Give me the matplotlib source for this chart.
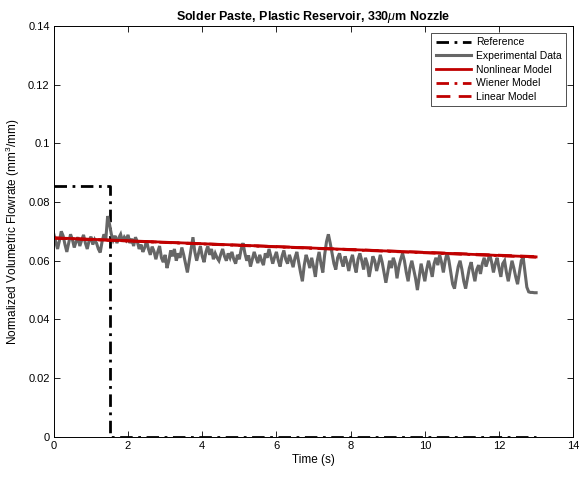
import numpy as np
import matplotlib
matplotlib.use("Agg")
import matplotlib.pyplot as plt

plt.rcParams['font.family'] = ['Liberation Sans', 'DejaVu Sans']
plt.rcParams['mathtext.fontset'] = 'custom'
plt.rcParams['mathtext.it'] = 'Liberation Sans:italic'
plt.rcParams['mathtext.rm'] = 'Liberation Sans'

# Reference step input
refTime = [0, 1.52, 1.52, 13.0]
refFlow = [0.0855, 0.0855, 0.0, 0.0]

# Measured flowrate, sampled every 0.05 s from 0 to 13 s
expStep = 0.05
expFlow = [
	0.0690, 0.0665, 0.0640, 0.0668, 0.0700, 0.0685, 0.0655, 0.0630, 0.0660, 0.0690, 0.0672, 0.0645, 0.0665, 0.0680, 0.0650, 0.0670, 0.0688, 0.0660, 0.0640, 0.0668,
	0.0682, 0.0655, 0.0672, 0.0660, 0.0640, 0.0628, 0.0665, 0.0690, 0.0672, 0.0752, 0.0725, 0.0690, 0.0670, 0.0685, 0.0660, 0.0678, 0.0690, 0.0665, 0.0680, 0.0670,
	0.0688, 0.0660, 0.0675, 0.0650, 0.0680, 0.0665, 0.0640, 0.0655, 0.0630, 0.0645, 0.0668, 0.0640, 0.0620, 0.0648, 0.0632, 0.0605, 0.0630, 0.0650, 0.0610, 0.0595,
	0.0620, 0.0575, 0.0600, 0.0635, 0.0615, 0.0640, 0.0600, 0.0625, 0.0610, 0.0645, 0.0620, 0.0590, 0.0560, 0.0600, 0.0640, 0.0680, 0.0630, 0.0600, 0.0625, 0.0650,
	0.0615, 0.0595, 0.0630, 0.0650, 0.0620, 0.0640, 0.0605, 0.0625, 0.0610, 0.0600, 0.0622, 0.0640, 0.0615, 0.0600, 0.0625, 0.0610, 0.0630, 0.0605, 0.0590, 0.0620,
	0.0605, 0.0640, 0.0660, 0.0625, 0.0600, 0.0618, 0.0580, 0.0605, 0.0630, 0.0610, 0.0592, 0.0620, 0.0600, 0.0585, 0.0625, 0.0610, 0.0640, 0.0615, 0.0590, 0.0612,
	0.0630, 0.0600, 0.0580, 0.0615, 0.0635, 0.0605, 0.0590, 0.0620, 0.0600, 0.0578, 0.0610, 0.0630, 0.0595, 0.0560, 0.0530, 0.0585, 0.0620, 0.0600, 0.0575, 0.0610,
	0.0580, 0.0545, 0.0600, 0.0630, 0.0590, 0.0560, 0.0620, 0.0665, 0.0690, 0.0660, 0.0625, 0.0590, 0.0570, 0.0610, 0.0625, 0.0600, 0.0580, 0.0615, 0.0595, 0.0565,
	0.0600, 0.0620, 0.0585, 0.0560, 0.0605, 0.0625, 0.0600, 0.0570, 0.0610, 0.0590, 0.0545, 0.0580, 0.0615, 0.0600, 0.0565, 0.0590, 0.0620, 0.0595, 0.0560, 0.0525,
	0.0560, 0.0600, 0.0575, 0.0610, 0.0590, 0.0540, 0.0580, 0.0605, 0.0625, 0.0600, 0.0560, 0.0530, 0.0575, 0.0600, 0.0570, 0.0540, 0.0500, 0.0545, 0.0590, 0.0560,
	0.0530, 0.0570, 0.0600, 0.0575, 0.0545, 0.0590, 0.0610, 0.0585, 0.0620, 0.0595, 0.0560, 0.0600, 0.0628, 0.0600, 0.0560, 0.0520, 0.0505, 0.0545, 0.0580, 0.0600,
	0.0570, 0.0530, 0.0505, 0.0540, 0.0575, 0.0595, 0.0560, 0.0530, 0.0570, 0.0585, 0.0555, 0.0590, 0.0610, 0.0580, 0.0600, 0.0622, 0.0595, 0.0560, 0.0590, 0.0610,
	0.0575, 0.0545, 0.0590, 0.0600, 0.0560, 0.0530, 0.0565, 0.0600, 0.0575, 0.0545, 0.0520, 0.0560, 0.0600, 0.0612, 0.0560, 0.0510, 0.0494, 0.0492, 0.0492, 0.0491,
	0.0491,
]
expTime = np.arange(len(expFlow)) * expStep

# Model predictions (start and end of the run)
modelTime = [0, 13.0]
nonlinearFlow = [0.0678, 0.0613]
wienerFlow = [0.0677, 0.0612]
linearFlow = [0.0677, 0.0614]

dashDot = (0, (4.5, 2, 1, 2))

fig = plt.figure(figsize=(5.79, 4.78), dpi=100)
ax = fig.add_axes([0.093, 0.086, 0.897, 0.860])

ax.plot(refTime, refFlow, color='black', linewidth=2, linestyle=dashDot, label="Reference")
ax.plot(expTime, expFlow, color='#666666', linewidth=2.2, solid_joinstyle='miter', label="Experimental Data")
ax.plot(modelTime, nonlinearFlow, color='#c00000', linewidth=2, label="Nonlinear Model")
ax.plot(modelTime, wienerFlow, color='#c00000', linewidth=2, linestyle=dashDot, label="Wiener Model")
ax.plot(modelTime, linearFlow, color='#c00000', linewidth=2, linestyle=(0, (5, 3)), label="Linear Model")

ax.set_xlim(0, 14)
ax.set_ylim(0, 0.14)
ax.set_xticks(np.arange(0, 15, 2))
ax.set_yticks(np.arange(0, 0.141, 0.02))
ax.set_yticklabels(['0', '0.02', '0.04', '0.06', '0.08', '0.1', '0.12', '0.14'])
ax.tick_params(direction='in', top=True, right=True, labelsize=8, length=4, width=0.6, pad=3)
for s in ax.spines.values() :
	s.set_linewidth(0.7)

ax.set_xlabel("Time (s)", fontsize=8.5, labelpad=2)
ax.set_ylabel("Normalized Volumetric Flowrate (mm$^3$/mm)", fontsize=8.5, labelpad=4)
ax.set_title("Solder Paste, Plastic Reservoir, 330$\\mu$m Nozzle", fontsize=9, fontweight='bold', pad=4)

leg = ax.legend(loc='upper right', fontsize=7.5, frameon=True, fancybox=False, edgecolor='black',
	handlelength=3.4, borderpad=0.4, labelspacing=0.35, borderaxespad=0.7, handletextpad=0.5)
leg.get_frame().set_linewidth(0.6)

fig.savefig("out.png", dpi=100)
